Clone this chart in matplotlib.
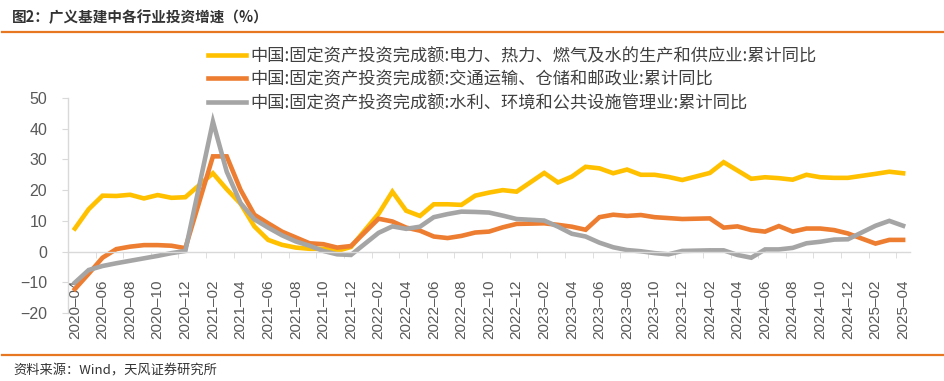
import matplotlib
matplotlib.use("Agg")
import matplotlib.pyplot as plt
import numpy as np
import pandas as pd
from matplotlib.lines import Line2D

# monthly categories, 2020-04 .. 2025-04 (January has no cumulative value)
months = [p.strftime("%Y-%m") for p in pd.period_range("2020-04", "2025-04", freq="M")]
tick_labels = [m.replace("-", "–") for m in months[::2]]

nan = np.nan
power = [
    7.5, 13.8, 18.2, 18.1, 18.5, 17.3, 18.4, 17.5, 17.7,
    nan, 25.5, 20.3, 15.6, 8.2, 3.8, 2.2, 1.3, 0.9, 0.9, 0.2, 1.5,
    nan, 12.3, 19.5, 13.3, 11.6, 15.4, 15.4, 15.2, 18.2, 19.2, 20.0, 19.5,
    nan, 25.6, 22.5, 24.4, 27.6, 27.1, 25.5, 26.7, 25.0, 25.0, 24.3, 23.3,
    nan, 25.6, 29.1, 26.4, 23.7, 24.2, 23.9, 23.4, 25.0, 24.2, 24.0, 24.0,
    nan, 25.3, 26.0, 25.5,
]
transport = [
    -12.2, -7.2, -2.0, 0.8, 1.6, 2.1, 2.1, 1.9, 1.1,
    nan, 31.0, 31.0, 20.1, 12.0, 9.2, 6.5, 4.6, 2.7, 2.4, 1.3, 1.8,
    nan, 10.7, 9.8, 7.8, 6.8, 4.9, 4.4, 5.1, 6.2, 6.5, 7.9, 9.0,
    nan, 9.2, 8.7, 8.1, 7.1, 11.2, 12.0, 11.6, 11.9, 11.2, 10.9, 10.6,
    nan, 10.8, 7.8, 8.2, 7.0, 6.5, 8.3, 6.5, 7.5, 7.5, 7.0, 5.9,
    nan, 2.6, 3.8, 3.8,
]
water = [
    -10.1, -6.0, -4.7, -3.8, -3.0, -2.2, -1.4, -0.5, 0.2,
    nan, 42.3, 26.0, 15.8, 10.5, 7.8, 5.3, 3.3, 1.9, 0.2, -0.9, -1.1,
    nan, 6.1, 8.2, 7.4, 8.1, 11.2, 12.2, 13.0, 12.9, 12.7, 11.7, 10.6,
    nan, 10.1, 8.1, 5.8, 4.9, 2.9, 1.4, 0.5, 0.1, -0.5, -0.9, 0.2,
    nan, 0.4, 0.4, -1.1, -2.0, 0.7, 0.7, 1.2, 2.7, 3.2, 3.9, 4.0,
    nan, 8.4, 10.0, 8.4,
]

series_names = [
    "中国:固定资产投资完成额:电力、热力、燃气及水的生产和供应业:累计同比",
    "中国:固定资产投资完成额:交通运输、仓储和邮政业:累计同比",
    "中国:固定资产投资完成额:水利、环境和公共设施管理业:累计同比",
]
colors = ["#FFC000", "#ED7D31", "#A5A5A5"]

cjk = ["Noto Sans CJK SC", "DejaVu Sans"]
axis_grey = "#D9D9D9"
text_grey = "#595959"

fig = plt.figure(figsize=(9.45, 3.81), dpi=100)
ax = fig.add_axes([68 / 945, 1 - 313 / 381, (910 - 68) / 945, (313 - 98) / 381])

x = np.arange(len(months))
for vals, color, name in zip([power, transport, water], colors, series_names):
    v = np.array(vals, dtype=float)
    ok = ~np.isnan(v)
    ax.plot(x[ok], v[ok], color=color, lw=3.3, label=name, solid_joinstyle="miter")

ax.set_xlim(-0.5, len(months) - 0.5)
ax.set_ylim(-20, 50)

for side in ["top", "right"]:
    ax.spines[side].set_visible(False)
ax.spines["bottom"].set_position(("data", 0))
ax.spines["bottom"].set_color(axis_grey)
ax.spines["left"].set_color(axis_grey)
ax.spines["bottom"].set_linewidth(1.0)
ax.spines["left"].set_linewidth(1.0)

ax.set_yticks(np.arange(-20, 51, 10))
ax.tick_params(axis="y", direction="out", length=4, color=axis_grey, pad=11,
               labelsize=11.5, labelcolor=text_grey)
for lab in ax.get_yticklabels():
    lab.set_fontfamily("Liberation Sans")

ax.set_xticks(x[::2])
ax.set_xticklabels(tick_labels, rotation=90, fontsize=11, color=text_grey,
                   fontfamily="Liberation Sans")
ax.set_xticks(np.arange(1.5, len(months) - 1, 2), minor=True)
ax.tick_params(axis="x", which="major", length=0, pad=20)
ax.tick_params(axis="x", which="minor", direction="out", length=4, color=axis_grey)

fig.legend(loc="upper left", bbox_to_anchor=(208 / 945, 1 - 47 / 381),
           frameon=False, prop={"family": cjk, "size": 12.4},
           handlelength=2.2, handletextpad=0.25, labelspacing=0.32,
           borderpad=0, borderaxespad=0, labelcolor="#404040")

fig.text(12 / 945, 1 - 17 / 381, "图2：广义基建中各行业投资增速（%）", family=cjk,
         fontsize=10.5, fontweight="bold", color="#333333", va="center", ha="left")
fig.add_artist(Line2D([2 / 945, 1], [1 - 31.5 / 381] * 2, transform=fig.transFigure,
                      color="#E87722", lw=1.6))
fig.add_artist(Line2D([2 / 945, 1], [1 - 355 / 381] * 2, transform=fig.transFigure,
                      color="#E87722", lw=1.6))
fig.text(13 / 945, 1 - 371 / 381, "资料来源：Wind，天风证券研究所", family=cjk,
         fontsize=9.5, color="#333333", va="center", ha="left")

fig.savefig("out.png", dpi=100)
